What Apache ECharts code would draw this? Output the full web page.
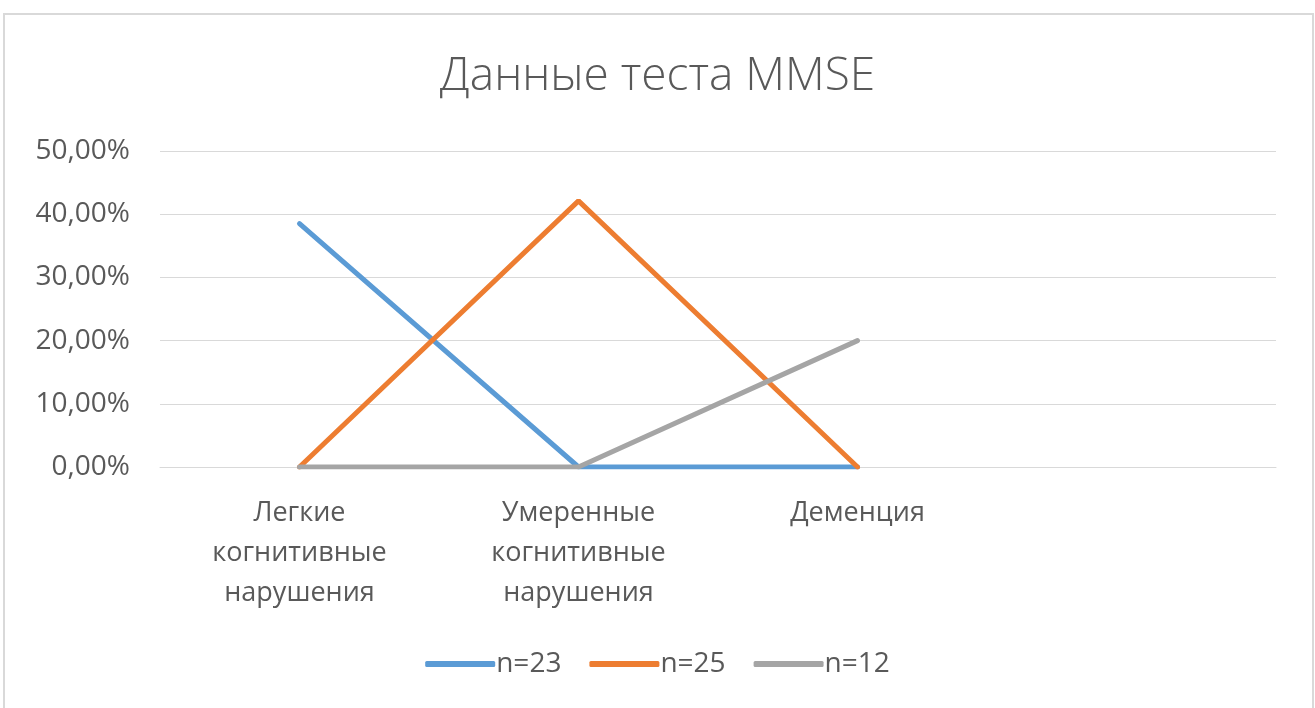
<!DOCTYPE html>
<html>
<head>
<meta charset="utf-8">
<script src="https://cdn.jsdelivr.net/npm/echarts@6/dist/echarts.min.js"></script>
<style>
  html, body { margin: 0; padding: 0; background: #fff; }
  #chart { width: 1315px; height: 708px; }
</style>
</head>
<body>
<div id="chart"></div>
<script>
const categories = ["Легкие\nкогнитивные\nнарушения", "Умеренные\nкогнитивные\nнарушения", "Деменция", ""];
const seriesNames = ["n=23", "n=25", "n=12"];
const n23 = [38.5, 0, 0];
const n25 = [0, 42.1, 0];
const n12 = [0, 0, 20];
const colors = ["#5B9BD5", "#ED7D31", "#A5A5A5"];
const font = "'Open Sans', sans-serif";

const chart = echarts.init(document.getElementById("chart"));
const option = {
  animation: false,
  color: colors,
  graphic: [{
    type: "rect",
    shape: { x: 4, y: 14, width: 1309, height: 720 },
    style: { fill: "none", stroke: "#d9d9d9", lineWidth: 2 }
  }],
  title: {
    text: "Данные теста MMSE",
    left: "center",
    top: 49,
    textStyle: { color: "#595959", fontSize: 46, fontWeight: 300, fontFamily: font }
  },
  grid: { left: 160, right: 39, top: 151, bottom: 241 },
  legend: {
    data: seriesNames,
    bottom: 25,
    left: "center",
    itemWidth: 70,
    itemHeight: 6,
    itemGap: 28,
    icon: "roundRect",
    textStyle: { color: "#595959", fontSize: 28, fontFamily: font, padding: [0, 0, 0, -4] }
  },
  xAxis: {
    type: "category",
    data: categories,
    boundaryGap: true,
    axisLine: { lineStyle: { color: "#d9d9d9", width: 1 } },
    axisTick: { show: false },
    axisLabel: { color: "#595959", fontSize: 27, lineHeight: 40, margin: 26, fontFamily: font, interval: 0 }
  },
  yAxis: {
    type: "value",
    min: 0,
    max: 50,
    interval: 10,
    axisLine: { show: false },
    axisTick: { show: false },
    splitLine: { lineStyle: { color: "#d9d9d9", width: 1 } },
    axisLabel: {
      color: "#595959", fontSize: 28, margin: 30, fontFamily: font,
      formatter: v => v.toFixed(2).replace(".", ",") + "%"
    }
  },
  series: [
    { name: seriesNames[0], type: "line", data: n23, showSymbol: false, lineStyle: { width: 5, cap: "round" } },
    { name: seriesNames[1], type: "line", data: n25, showSymbol: false, lineStyle: { width: 5, cap: "round" } },
    { name: seriesNames[2], type: "line", data: n12, showSymbol: false, lineStyle: { width: 5, cap: "round" } }
  ]
};
chart.setOption(option);
window.addEventListener("resize", () => chart.resize());
</script>
</body>
</html>
